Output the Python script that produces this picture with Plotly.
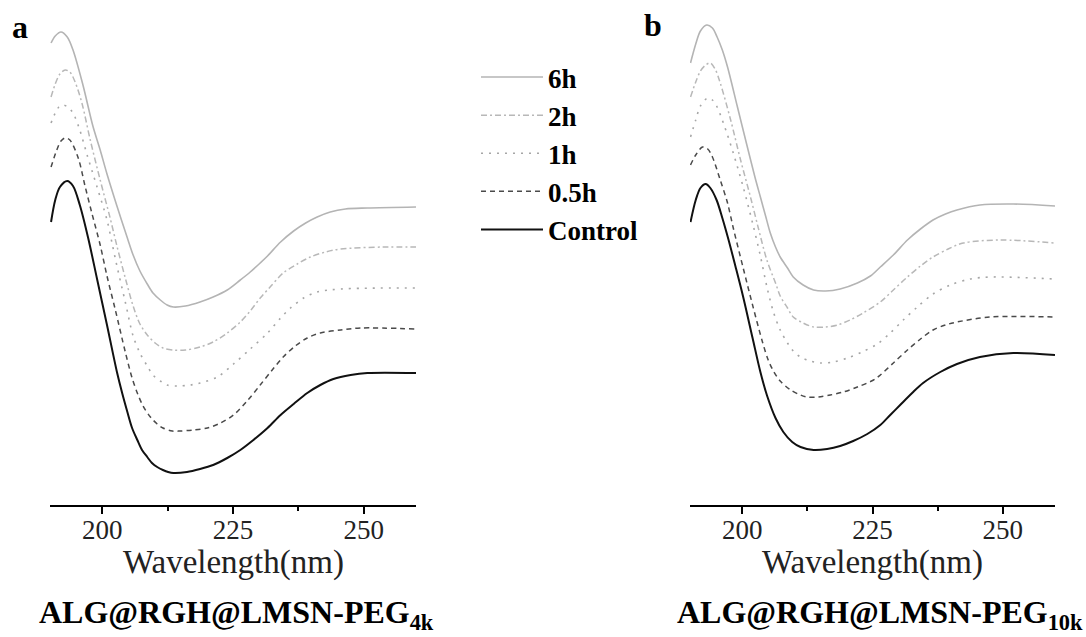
import plotly.graph_objects as go

# ---------------- data (CD signal, arbitrary units) ----------------
series_names = ["6h", "2h", "1h", "0.5h", "Control"]

# Panel a : ALG@RGH@LMSN-PEG4k
a_6h_wl = [190.2, 191.0, 192.1, 193.3, 194.4, 196.3, 198.2, 199.6, 200.9, 202.8, 204.8, 205.9, 207.2, 208.6, 209.7, 211.1, 212.4, 213.6, 215.9, 218.7, 221.2, 223.9, 226.4, 228.3, 230.2, 231.6, 234.1, 236.6, 238.9, 241.1, 243.6, 246.5, 250.7, 260.0]
a_6h_cd = [46.2, 46.9, 47.3, 46.8, 45.5, 42.0, 37.9, 35.5, 33.1, 29.9, 26.7, 25.0, 23.4, 22.1, 21.2, 20.5, 20.0, 19.8, 19.9, 20.3, 20.8, 21.5, 22.5, 23.3, 24.2, 24.9, 26.3, 27.4, 28.2, 28.8, 29.3, 29.6, 29.7, 29.8]

a_2h_wl = [190.2, 191.0, 191.9, 192.9, 193.8, 194.8, 196.1, 197.7, 199.6, 201.5, 202.8, 204.4, 205.9, 207.2, 208.6, 210.1, 211.6, 213.6, 215.9, 218.7, 221.2, 223.9, 226.4, 228.3, 230.2, 232.1, 234.6, 237.3, 239.8, 242.7, 245.6, 253.8, 260.0]
a_2h_cd = [40.8, 42.1, 43.1, 43.5, 43.3, 42.3, 40.2, 36.5, 32.5, 28.7, 25.9, 22.7, 19.9, 18.1, 17.0, 16.2, 15.7, 15.5, 15.5, 15.8, 16.3, 17.2, 18.3, 19.4, 20.7, 21.8, 23.2, 24.1, 24.8, 25.3, 25.6, 25.8, 25.8]

a_1h_wl = [190.2, 191.0, 191.7, 192.5, 193.4, 194.4, 195.7, 197.1, 199.0, 200.9, 201.9, 202.8, 204.4, 205.9, 207.2, 208.6, 209.7, 211.1, 212.4, 214.5, 216.8, 218.7, 222.0, 225.1, 228.3, 231.6, 234.1, 236.0, 238.5, 241.1, 245.6, 260.0]
a_1h_cd = [38.2, 39.2, 39.8, 40.0, 39.8, 39.2, 37.5, 35.0, 31.8, 28.5, 26.1, 23.9, 20.3, 16.9, 15.2, 13.9, 13.0, 12.4, 12.0, 11.9, 12.0, 12.2, 12.8, 14.1, 15.6, 17.2, 18.7, 19.7, 20.7, 21.3, 21.6, 21.7]

a_05h_wl = [190.2, 191.3, 192.1, 192.9, 193.8, 195.4, 196.7, 198.0, 199.6, 200.9, 202.5, 204.4, 205.7, 206.7, 207.8, 209.2, 210.5, 211.6, 213.4, 214.9, 217.4, 220.1, 222.6, 225.1, 227.7, 230.2, 232.5, 234.6, 236.9, 239.2, 241.7, 245.6, 249.4, 260.0]
a_05h_cd = [33.8, 35.5, 36.4, 36.7, 36.5, 34.7, 31.9, 29.2, 26.0, 22.9, 19.5, 15.3, 12.7, 11.2, 9.9, 8.8, 8.1, 7.7, 7.4, 7.4, 7.5, 7.7, 8.2, 9.0, 10.4, 12.0, 13.5, 14.8, 15.9, 16.7, 17.2, 17.5, 17.7, 17.6]

a_ctrl_wl = [190.2, 191.0, 191.9, 193.3, 194.4, 195.7, 197.3, 199.0, 200.9, 202.8, 203.8, 204.8, 205.7, 206.7, 207.6, 208.6, 209.5, 210.5, 211.6, 212.6, 213.6, 216.2, 218.7, 221.2, 223.9, 226.4, 228.9, 231.6, 234.1, 236.6, 239.2, 241.7, 244.2, 247.5, 250.7, 260.0]
a_ctrl_cd = [28.3, 30.5, 31.8, 32.4, 31.9, 30.0, 26.7, 22.6, 18.0, 13.3, 11.2, 9.3, 7.7, 6.5, 5.5, 4.8, 4.2, 3.8, 3.5, 3.3, 3.2, 3.3, 3.6, 4.0, 4.7, 5.5, 6.5, 7.7, 9.0, 10.1, 11.2, 12.0, 12.6, 13.0, 13.2, 13.2]

# Panel b : ALG@RGH@LMSN-PEG10k
b_6h_wl = [190.1, 191.1, 192.0, 193.2, 194.3, 195.2, 196.2, 197.2, 199.1, 201.0, 202.5, 203.5, 204.5, 205.4, 206.4, 207.3, 208.7, 209.8, 211.7, 213.7, 216.0, 218.8, 222.1, 224.6, 226.5, 229.0, 231.7, 234.2, 236.6, 239.0, 241.2, 245.6, 252.0, 260.0]
b_6h_cd = [44.2, 46.1, 47.4, 48.0, 47.7, 46.8, 45.5, 43.8, 39.8, 35.8, 32.7, 30.8, 28.9, 27.2, 25.8, 24.8, 23.7, 22.8, 22.0, 21.5, 21.4, 21.6, 22.2, 22.9, 23.8, 25.0, 26.5, 27.6, 28.5, 29.1, 29.5, 30.0, 30.1, 29.9]

b_2h_wl = [190.1, 191.1, 192.0, 193.0, 193.9, 194.9, 195.8, 197.8, 199.7, 201.6, 203.1, 204.8, 206.4, 207.3, 208.7, 209.8, 211.7, 213.7, 216.0, 218.3, 220.7, 223.2, 226.5, 229.0, 231.7, 234.2, 236.6, 239.5, 242.4, 249.5, 260.0]
b_2h_cd = [40.8, 42.3, 43.4, 44.0, 44.2, 43.5, 42.2, 38.5, 34.5, 30.8, 27.7, 24.4, 22.2, 20.9, 19.7, 18.8, 18.2, 17.8, 17.8, 18.0, 18.5, 19.2, 20.3, 21.5, 22.8, 23.9, 24.8, 25.6, 26.2, 26.5, 26.2]

b_1h_wl = [190.1, 191.1, 192.0, 193.4, 194.3, 195.2, 196.4, 198.3, 200.2, 202.0, 203.5, 204.8, 206.0, 207.3, 208.7, 209.8, 211.2, 213.1, 215.0, 217.5, 220.2, 223.0, 225.9, 228.4, 230.9, 233.6, 236.6, 239.9, 243.7, 247.6, 260.0]
b_1h_cd = [36.8, 38.5, 39.9, 40.7, 40.5, 39.8, 38.2, 35.2, 31.8, 28.2, 24.9, 21.7, 19.3, 17.5, 16.2, 15.4, 14.8, 14.4, 14.2, 14.3, 14.7, 15.3, 16.1, 17.2, 18.5, 19.8, 21.1, 22.0, 22.6, 22.8, 22.6]

b_05h_wl = [190.1, 191.1, 192.4, 193.4, 194.3, 195.8, 197.2, 198.3, 200.2, 202.0, 203.9, 205.0, 206.0, 207.3, 209.3, 211.2, 212.5, 214.6, 216.9, 219.4, 222.1, 225.2, 226.5, 229.0, 231.7, 234.2, 236.6, 239.0, 241.2, 247.6, 260.0]
b_05h_cd = [34.0, 35.0, 35.8, 35.6, 34.8, 32.5, 30.2, 27.7, 23.7, 20.0, 16.3, 14.5, 13.4, 12.4, 11.5, 11.0, 10.8, 10.8, 11.0, 11.3, 11.8, 12.5, 13.0, 14.2, 15.5, 16.6, 17.5, 18.0, 18.3, 18.8, 18.8]

b_ctrl_wl = [190.1, 191.1, 192.0, 193.0, 193.9, 195.1, 196.2, 197.4, 198.7, 200.2, 202.0, 203.5, 204.8, 206.4, 207.9, 209.6, 211.2, 213.7, 216.3, 218.8, 221.3, 224.0, 226.5, 228.4, 230.3, 232.6, 234.7, 238.0, 241.2, 245.6, 252.0, 260.0]
b_ctrl_cd = [28.3, 30.5, 31.7, 32.1, 31.7, 30.5, 28.7, 26.5, 23.9, 20.8, 16.7, 13.3, 10.9, 8.7, 7.3, 6.3, 5.8, 5.5, 5.6, 5.9, 6.4, 7.1, 8.0, 9.0, 10.0, 11.2, 12.2, 13.3, 14.1, 14.8, 15.2, 15.0]

tick_values = [200, 225, 250]
minor_tick_values = [212.5, 237.5]
x_range = [190, 260]
y_range = [0, 48.5]

# ---------------- styles ----------------
styles = {
    "6h": dict(color="#b4b4b4", width=1.6, dash="solid"),
    "2h": dict(color="#b8b8b8", width=1.5, dash="6px,3px,2px,3px"),
    "1h": dict(color="#a6a6a6", width=1.6, dash="2px,6px"),
    "0.5h": dict(color="#4a4a4a", width=1.5, dash="5px,4px"),
    "Control": dict(color="#111111", width=2.0, dash="solid"),
}

panel_a = [(a_6h_wl, a_6h_cd), (a_2h_wl, a_2h_cd), (a_1h_wl, a_1h_cd), (a_05h_wl, a_05h_cd), (a_ctrl_wl, a_ctrl_cd)]
panel_b = [(b_6h_wl, b_6h_cd), (b_2h_wl, b_2h_cd), (b_1h_wl, b_1h_cd), (b_05h_wl, b_05h_cd), (b_ctrl_wl, b_ctrl_cd)]

fig = go.Figure()
for name, (wl, cd) in zip(series_names, panel_a):
    fig.add_trace(go.Scatter(x=wl, y=cd, mode="lines", name=name, line=dict(shape="spline", smoothing=0.9, **styles[name]),
                             xaxis="x", yaxis="y", showlegend=True))
for name, (wl, cd) in zip(series_names, panel_b):
    fig.add_trace(go.Scatter(x=wl, y=cd, mode="lines", name=name, line=dict(shape="spline", smoothing=0.9, **styles[name]),
                             xaxis="x2", yaxis="y2", showlegend=False))

W, H = 1086, 637
serif = "Liberation Serif, Times New Roman, serif"

xaxis_common = dict(range=x_range, showline=True, linecolor="black", linewidth=1.5, ticks="outside", ticklen=7, tickwidth=1.5,
                    tickcolor="black", tickmode="array", tickvals=tick_values, showgrid=False, zeroline=False,
                    tickfont=dict(family=serif, size=27, color="#222"), ticklabelstandoff=-7,
                    minor=dict(tickmode="array", tickvals=minor_tick_values, ticks="outside", ticklen=4, tickwidth=1.5,
                               tickcolor="black", showgrid=False))
yaxis_common = dict(range=y_range, visible=False, showgrid=False, zeroline=False)

y_dom = [(H - 505) / H, (H - 20) / H]
fig.update_layout(
    width=W, height=H,
    margin=dict(l=0, r=0, t=0, b=0),
    paper_bgcolor="white", plot_bgcolor="white",
    xaxis=dict(domain=[50 / W, 416 / W], anchor="y", **xaxis_common),
    yaxis=dict(domain=y_dom, anchor="x", **yaxis_common),
    xaxis2=dict(domain=[690 / W, 1055 / W], anchor="y2", **xaxis_common),
    yaxis2=dict(domain=y_dom, anchor="x2", **yaxis_common),
    legend=dict(x=476 / W, y=1 - 53 / H, xanchor="left", yanchor="top", bgcolor="rgba(0,0,0,0)",
                font=dict(family=serif, size=27, color="black", weight="bold"), itemwidth=62, tracegroupgap=0),
    showlegend=True,
)

for txt, cx, cy in (("<b>a</b>", 20, 27), ("<b>b</b>", 653, 25)):
    fig.add_annotation(text=txt, x=cx / W, y=1 - cy / H, xref="paper", yref="paper", showarrow=False,
                       xanchor="center", yanchor="middle", font=dict(family=serif, size=32, color="black"))

for cx in (233, 872):
    fig.add_annotation(text="Wavelength(nm)", x=cx / W, y=1 - 562 / H, xref="paper", yref="paper", showarrow=False,
                       xanchor="center", yanchor="middle", font=dict(family=serif, size=33, color="#222"))

fig.add_annotation(text="<b>ALG@RGH@LMSN-PEG<sub>4k</sub></b>", x=236 / W, y=1 - 614 / H, xref="paper", yref="paper",
                   showarrow=False, xanchor="center", yanchor="middle", font=dict(family=serif, size=32, color="black"))
fig.add_annotation(text="<b>ALG@RGH@LMSN-PEG<sub>10k</sub></b>", x=880 / W, y=1 - 614 / H, xref="paper", yref="paper",
                   showarrow=False, xanchor="center", yanchor="middle", font=dict(family=serif, size=32, color="black"))

fig.write_html("out.html", config={"displayModeBar": False},
               post_script="document.body.style.margin='0';document.body.style.overflow='hidden';")
